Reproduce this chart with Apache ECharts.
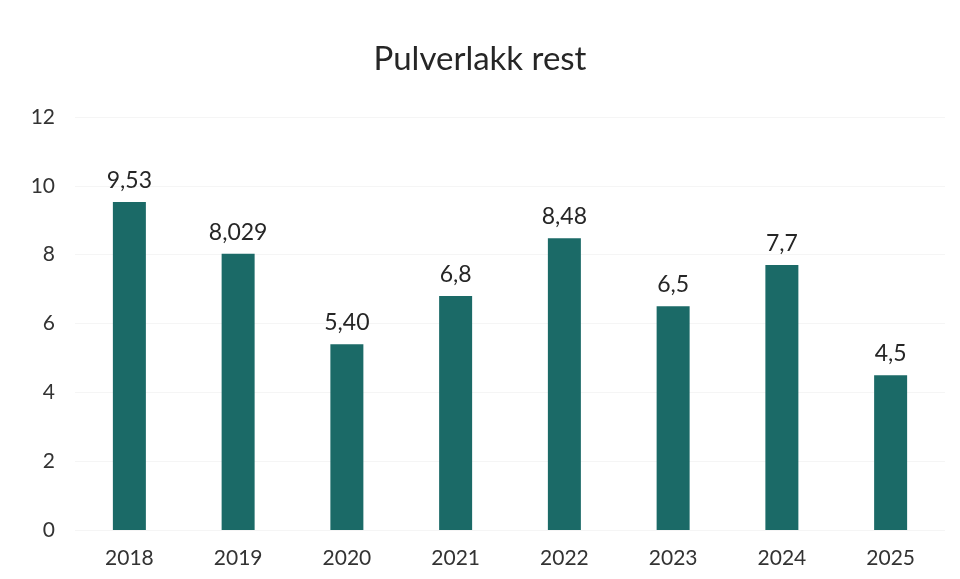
<!DOCTYPE html>
<html>
<head>
<meta charset="utf-8">
<script src="https://cdn.jsdelivr.net/npm/echarts@6/dist/echarts.min.js"></script>
<style>
  html, body { margin: 0; padding: 0; background: #fff; }
  #chart { width: 960px; height: 579px; }
</style>
</head>
<body>
<div id="chart"></div>
<script>
var years = ['2018', '2019', '2020', '2021', '2022', '2023', '2024', '2025'];
var values = [9.53, 8.029, 5.40, 6.8, 8.48, 6.5, 7.7, 4.5];
// labels as printed in the chart (comma decimal)
var labelTexts = ['9,53', '8,029', '5,40', '6,8', '8,48', '6,5', '7,7', '4,5'];

var chart = echarts.init(document.getElementById('chart'));
var font = 'Lato, "Open Sans", sans-serif';

chart.setOption({
    backgroundColor: '#fff',
    animation: false,
    title: {
        text: 'Pulverlakk rest',
        left: 'center',
        top: 38,
        textStyle: { fontFamily: font, fontWeight: 'normal', fontSize: 33, color: '#262626' }
    },
    grid: { left: 75, right: 15, top: 117, bottom: 49 },
    xAxis: {
        type: 'category',
        data: years,
        axisLine: { show: false },
        axisTick: { show: false },
        axisLabel: { fontFamily: font, fontSize: 21, color: '#333', margin: 18 }
    },
    yAxis: {
        type: 'value',
        min: 0,
        max: 12,
        interval: 2,
        axisLabel: { fontFamily: font, fontSize: 21, color: '#333', margin: 20 },
        splitLine: { lineStyle: { color: '#f5f5f5' } }
    },
    series: [{
        type: 'bar',
        data: values,
        barWidth: 33,
        itemStyle: { color: '#1b6a67' },
        label: {
            show: true,
            position: 'top',
            distance: 10,
            fontFamily: font,
            fontSize: 23,
            color: '#262626',
            formatter: function (p) { return labelTexts[p.dataIndex]; }
        }
    }]
});
</script>
</body>
</html>
